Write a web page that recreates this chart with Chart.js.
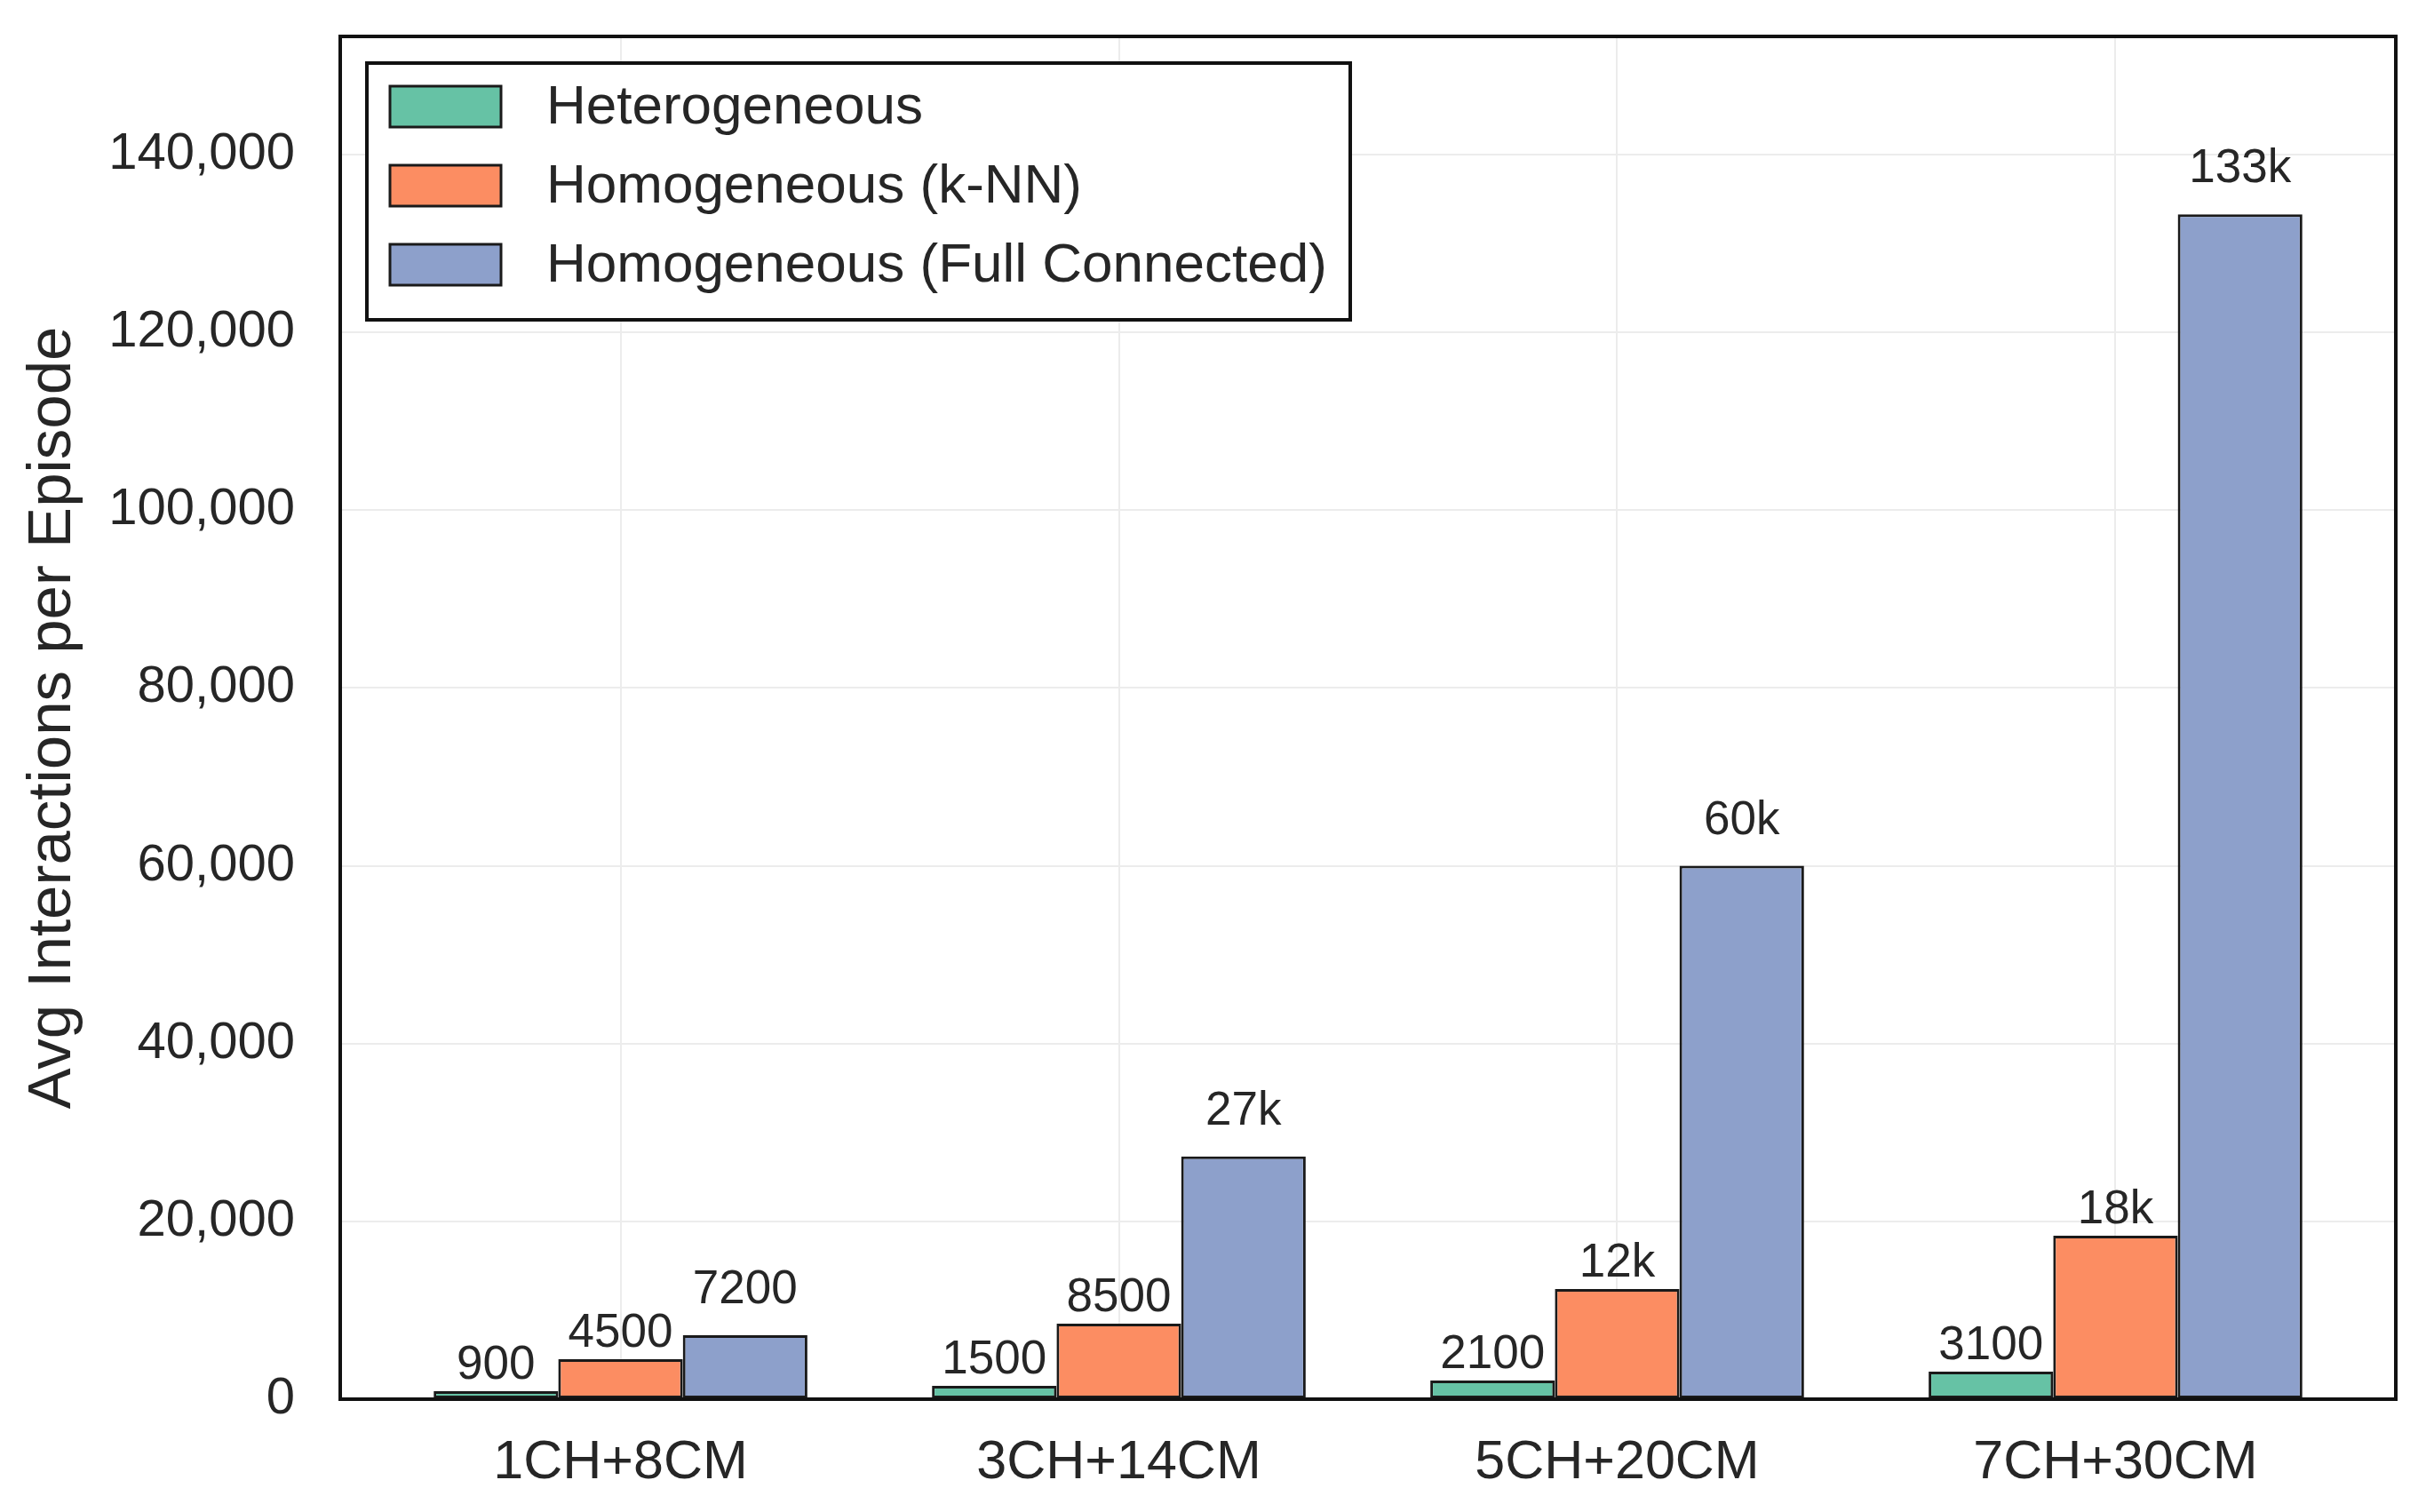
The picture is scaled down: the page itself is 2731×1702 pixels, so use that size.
<!DOCTYPE html>
<html>
<head>
<meta charset="utf-8">
<script src="https://cdn.jsdelivr.net/npm/chart.js@4.4.1/dist/chart.umd.min.js"></script>
<style>
html,body{margin:0;padding:0;background:#fff;}
#wrap{width:2731px;height:1702px;position:relative;}
</style>
</head>
<body>
<div id="wrap"><canvas id="c"></canvas></div>
<script>
// ---- data ----
const categories = ['1CH+8CM', '3CH+14CM', '5CH+20CM', '7CH+30CM'];
const seriesNames = ['Heterogeneous', 'Homogeneous (k-NN)', 'Homogeneous (Full Connected)'];
const heterogeneous = [900, 1500, 2100, 3100];
const homogeneousKnn = [4500, 8500, 12400, 18400];
const homogeneousFull = [7200, 27300, 60000, 133300];
const yTickValues = [0, 20000, 40000, 60000, 80000, 100000, 120000, 140000];
const yMax = 153300;

// ---- styles ----
const seriesColors = ['#66c2a5', '#fc8d62', '#8da0cb'];
const labelOffsets = [14, 14, 36];
const textColor = '#262626';
const FONT = '"Liberation Sans", Arial, Helvetica, sans-serif';

function fmtLabel(v) { return v >= 10000 ? Math.round(v / 1000) + 'k' : String(v); }
function toPoints(arr) { return arr.map((v, i) => ({ x: i, y: v })); }

const allSeries = [heterogeneous, homogeneousKnn, homogeneousFull];

const framePlugin = {
  id: 'frame',
  afterDatasetsDraw(chart) {
    const { ctx, chartArea: a } = chart;
    ctx.save();
    ctx.strokeStyle = '#111';
    ctx.lineWidth = 4;
    ctx.strokeRect(a.left, a.top, a.right - a.left, a.bottom - a.top);
    ctx.restore();
  }
};

const valueLabelPlugin = {
  id: 'valueLabels',
  afterDatasetsDraw(chart) {
    const { ctx } = chart;
    ctx.save();
    ctx.font = '53px ' + FONT;
    ctx.fillStyle = textColor;
    ctx.textAlign = 'center';
    ctx.textBaseline = 'alphabetic';
    chart.data.datasets.forEach((ds, di) => {
      const meta = chart.getDatasetMeta(di);
      meta.data.forEach((el, i) => {
        const v = ds.data[i].y;
        ctx.fillText(fmtLabel(v), el.x, el.y - labelOffsets[di]);
      });
    });
    ctx.restore();
  }
};

const boxLegendPlugin = {
  id: 'boxLegend',
  afterDraw(chart) {
    const { ctx, chartArea: a } = chart;
    const left = a.left + 30, top = a.top + 30, w = 1107, h = 289;
    ctx.save();
    ctx.fillStyle = '#fff';
    ctx.fillRect(left, top, w, h);
    ctx.lineWidth = 4;
    ctx.strokeStyle = '#111';
    ctx.strokeRect(left, top, w, h);
    ctx.font = '62px ' + FONT;
    ctx.textBaseline = 'middle';
    ctx.textAlign = 'left';
    chart.data.datasets.forEach((ds, di) => {
      const cy = top + 49 + di * 89;
      ctx.fillStyle = ds.backgroundColor;
      ctx.fillRect(left + 26, cy - 23, 125, 46);
      ctx.lineWidth = 3;
      ctx.strokeStyle = '#1a1a1a';
      ctx.strokeRect(left + 26, cy - 23, 125, 46);
      ctx.fillStyle = textColor;
      ctx.fillText(ds.label, left + 202, cy + 2);
    });
    ctx.restore();
  }
};

new Chart(document.getElementById('c'), {
  type: 'bar',
  data: {
    datasets: allSeries.map((arr, i) => ({
      label: seriesNames[i],
      data: toPoints(arr),
      backgroundColor: seriesColors[i],
      borderColor: '#1a1a1a',
      borderWidth: 3,
      borderSkipped: false,
      categoryPercentage: 0.75,
      barPercentage: 1.0
    }))
  },
  options: {
    responsive: true,
    maintainAspectRatio: false,
    devicePixelRatio: 1,
    animation: false,
    layout: { padding: { left: 0, top: 41, right: 34, bottom: 0 } },
    plugins: {
      legend: { display: false },
      tooltip: { enabled: false }
    },
    scales: {
      x: {
        type: 'linear',
        min: -0.5625,
        max: 3.5625,
        offset: false,
        grid: { offset: false, color: '#ececec', lineWidth: 2, drawTicks: false },
        border: { display: false },
        afterBuildTicks: (s) => { s.ticks = categories.map((c, i) => ({ value: i })); },
        afterFit: (s) => { s.height = 127; s.paddingLeft = 0; s.paddingRight = 0; },
        ticks: {
          autoSkip: false,
          maxRotation: 0,
          padding: 36,
          color: textColor,
          font: { family: FONT, size: 61 },
          callback: (v) => categories[v]
        }
      },
      y: {
        min: 0,
        max: yMax,
        grid: { color: '#ececec', lineWidth: 2, drawTicks: false },
        border: { display: false },
        afterBuildTicks: (s) => { s.ticks = yTickValues.map(v => ({ value: v })); },
        afterFit: (s) => { s.width = 383; s.paddingTop = 0; s.paddingBottom = 0; },
        ticks: {
          padding: 51,
          color: textColor,
          font: { family: FONT, size: 58 },
          callback: (v) => v.toLocaleString('en-US')
        },
        title: {
          display: true,
          text: 'Avg Interactions per Episode',
          color: textColor,
          font: { family: FONT, size: 69 },
          padding: { top: 19, bottom: 0 }
        }
      }
    }
  },
  plugins: [framePlugin, valueLabelPlugin, boxLegendPlugin]
});
</script>
</body>
</html>
